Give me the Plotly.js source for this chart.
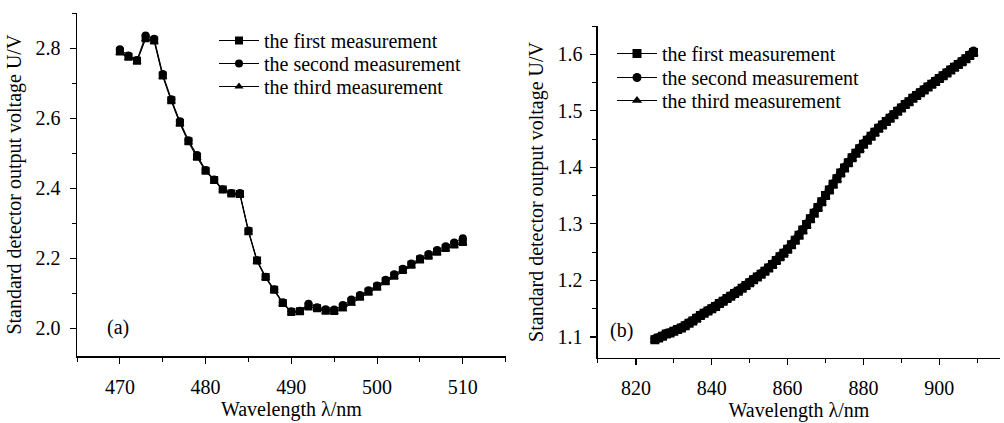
<!DOCTYPE html>
<html>
<head>
<meta charset="utf-8">
<script src="https://cdn.plot.ly/plotly-3.0.1.min.js"></script>
<style>html,body{margin:0;padding:0;background:#fff;}#chart{width:1004px;height:423px;}</style>
</head>
<body>
<div id="chart"></div>
<script>
// ---- Panel (a) data ----
const wavelengthA = [470,471,472,473,474,475,476,477,478,479,480,481,482,483,484,485,486,487,488,489,490,
                     491,492,493,494,495,496,497,498,499,500,501,502,503,504,505,506,507,508,509,510];
const firstA  = [2.790,2.775,2.764,2.828,2.822,2.722,2.651,2.587,2.534,2.490,2.450,2.423,2.396,2.385,2.383,2.277,2.193,2.146,2.110,2.072,2.046,
                 2.048,2.062,2.057,2.050,2.049,2.060,2.076,2.090,2.104,2.118,2.134,2.150,2.166,2.181,2.196,2.207,2.218,2.229,2.239,2.246];
const secondA = [2.797,2.779,2.766,2.836,2.827,2.726,2.654,2.591,2.537,2.495,2.452,2.425,2.397,2.386,2.386,2.279,2.194,2.147,2.111,2.074,2.048,
                 2.050,2.070,2.060,2.054,2.053,2.066,2.082,2.095,2.108,2.122,2.138,2.154,2.170,2.185,2.200,2.212,2.223,2.234,2.245,2.257];
const thirdA  = [2.787,2.772,2.762,2.826,2.819,2.719,2.648,2.584,2.531,2.487,2.448,2.420,2.394,2.383,2.381,2.274,2.190,2.143,2.107,2.070,2.044,
                 2.046,2.063,2.055,2.047,2.046,2.054,2.070,2.086,2.101,2.115,2.131,2.147,2.163,2.178,2.193,2.205,2.216,2.226,2.236,2.243];

// ---- Panel (b) data ----
const wavelengthB = [825,826,827,828,829,830,831,832,833,834,835,836,837,838,839,840,841,842,843,844,
                     845,846,847,848,849,850,851,852,853,854,855,856,857,858,859,860,861,862,863,864,
                     865,866,867,868,869,870,871,872,873,874,875,876,877,878,879,880,881,882,883,884,
                     885,886,887,888,889,890,891,892,893,894,895,896,897,898,899,900,901,902,903,904,
                     905,906,907,908,909];
const firstB = [1.095,1.098,1.101,1.105,1.107, 1.110,1.113,1.116,1.120,1.124, 1.128,1.133,1.138,1.142,1.146,
                1.150,1.154,1.159,1.163,1.168, 1.172,1.177,1.181,1.186,1.191, 1.196,1.201,1.206,1.211,1.216,
                1.222,1.228,1.235,1.242,1.248, 1.255,1.263,1.271,1.280,1.289, 1.299,1.309,1.319,1.329,1.339,
                1.350,1.360,1.370,1.380,1.390, 1.399,1.408,1.417,1.425,1.433, 1.441,1.448,1.455,1.462,1.469,
                1.475,1.481,1.487,1.493,1.499, 1.505,1.511,1.516,1.522,1.527, 1.532,1.537,1.542,1.547,1.552,
                1.557,1.562,1.567,1.572,1.577, 1.582,1.587,1.592,1.598,1.603];
const secondB = [1.097,1.099,1.102,1.106,1.108, 1.111,1.114,1.117,1.121,1.125, 1.129,1.134,1.139,1.143,1.147,
                 1.151,1.155,1.160,1.164,1.169, 1.173,1.178,1.182,1.187,1.192, 1.197,1.202,1.207,1.212,1.217,
                 1.223,1.229,1.236,1.243,1.249, 1.256,1.264,1.272,1.281,1.290, 1.300,1.310,1.320,1.330,1.340,
                 1.351,1.361,1.371,1.381,1.391, 1.400,1.409,1.418,1.426,1.434, 1.442,1.449,1.456,1.463,1.470,
                 1.476,1.482,1.488,1.494,1.500, 1.506,1.512,1.517,1.523,1.528, 1.533,1.538,1.543,1.548,1.553,
                 1.558,1.563,1.568,1.573,1.578, 1.583,1.588,1.593,1.599,1.606];
const thirdB = [1.094,1.097,1.100,1.103,1.106, 1.109,1.112,1.115,1.119,1.123, 1.127,1.131,1.136,1.141,1.145,
                1.149,1.153,1.157,1.162,1.166, 1.171,1.175,1.180,1.185,1.189, 1.194,1.199,1.204,1.209,1.215,
                1.220,1.226,1.233,1.240,1.247, 1.254,1.261,1.269,1.278,1.287, 1.297,1.307,1.317,1.327,1.337,
                1.348,1.358,1.368,1.378,1.388, 1.397,1.406,1.415,1.423,1.431, 1.439,1.446,1.453,1.460,1.467,
                1.473,1.479,1.485,1.491,1.497, 1.503,1.509,1.514,1.520,1.525, 1.530,1.535,1.540,1.545,1.550,
                1.555,1.560,1.565,1.570,1.575, 1.580,1.585,1.590,1.596,1.601];

const seriesNames = ['the first measurement','the second measurement','the third measurement'];
const symbols = ['square','circle','triangle-up'];
const xTitle = 'Wavelength λ/nm';
const yTitle = 'Standard detector output voltage U/V';
const FONT = 'Liberation Serif, DejaVu Serif, Times New Roman, serif';

function mk(x, y, i, xa, ya, lg, msize) {
  return {
    x: x, y: y, type: 'scatter', mode: 'lines+markers', name: seriesNames[i],
    xaxis: xa, yaxis: ya, legend: lg,
    line: {color: 'black', width: 1},
    marker: {symbol: symbols[i], size: msize, color: 'black'}
  };
}

const data = [
  mk(wavelengthA, firstA, 0, 'x', 'y', 'legend', 8),
  mk(wavelengthA, secondA, 1, 'x', 'y', 'legend2', 8),
  mk(wavelengthA, thirdA, 2, 'x', 'y', 'legend3', 8),
  mk(wavelengthB, firstB, 0, 'x2', 'y2', 'legend4', 9),
  mk(wavelengthB, secondB, 1, 'x2', 'y2', 'legend5', 9),
  mk(wavelengthB, thirdB, 2, 'x2', 'y2', 'legend6', 9)
];

const axBase = {
  showline: true, linecolor: 'black', linewidth: 1.5, mirror: false,
  ticks: 'outside', ticklen: 6, tickwidth: 1.2, tickcolor: 'black',
  showgrid: false, zeroline: false, fixedrange: true,
  tickfont: {family: FONT, size: 20, color: 'black'}
};

function leg(xpx, rowCenterPx) {
  return {
    x: xpx / 1004, y: 1 - (rowCenterPx - 20) / 423, xanchor: 'left', yanchor: 'top',
    bgcolor: 'rgba(0,0,0,0)', borderwidth: 0, font: {family: FONT, size: 20, color: 'black'},
    itemwidth: 40, tracegroupgap: 0
  };
}

const layout = {
  width: 1004, height: 423,
  margin: {l: 0, r: 0, t: 0, b: 0},
  paper_bgcolor: 'white', plot_bgcolor: 'white',
  font: {family: FONT, size: 20, color: 'black'},
  showlegend: true,
  xaxis: Object.assign({}, axBase, {
    domain: [0.0767, 0.5037], range: [465, 515], anchor: 'y',
    tick0: 470, dtick: 10, ticklabelstandoff: 6,
    minor: {ticks: 'outside', ticklen: 4, dtick: 5, tick0: 470, tickcolor: 'black', tickwidth: 1},
    title: {text: xTitle, standoff: 4, font: {family: FONT, size: 20}}
  }),
  yaxis: Object.assign({}, axBase, {
    domain: [0.158, 0.969], range: [1.92, 2.9], anchor: 'x',
    tick0: 2.0, dtick: 0.2, tickformat: '.1f', ticklabelstandoff: 5,
    minor: {ticks: 'outside', ticklen: 4, dtick: 0.1, tick0: 2.0, tickcolor: 'black', tickwidth: 1},
    title: {text: yTitle, standoff: 8, font: {family: FONT, size: 20}}
  }),
  xaxis2: Object.assign({}, axBase, {
    domain: [0.5956, 0.996], range: [810, 916], anchor: 'y2',
    tick0: 820, dtick: 20, ticklabelstandoff: 6,
    minor: {ticks: 'outside', ticklen: 4, dtick: 10, tick0: 820, tickcolor: 'black', tickwidth: 1},
    title: {text: xTitle, standoff: 4, font: {family: FONT, size: 20}}
  }),
  yaxis2: Object.assign({}, axBase, {
    domain: [0.154, 0.9385], range: [1.063, 1.65], anchor: 'x2',
    tick0: 1.1, dtick: 0.1, tickformat: '.1f', ticklabelstandoff: 4,
    minor: {ticks: 'outside', ticklen: 4, dtick: 0.05, tick0: 1.1, tickcolor: 'black', tickwidth: 1},
    title: {text: yTitle, standoff: 8, font: {family: FONT, size: 20}}
  }),
  legend: leg(214, 41),
  legend2: leg(214, 64),
  legend3: leg(214, 87),
  legend4: leg(612, 54),
  legend5: leg(612, 78),
  legend6: leg(612, 101),
  annotations: [
    {text: '(a)', xref: 'paper', yref: 'paper', x: 0.1046, y: 0.1939, showarrow: false, font: {family: FONT, size: 20}},
    {text: '(b)', xref: 'paper', yref: 'paper', x: 0.6195, y: 0.1868, showarrow: false, font: {family: FONT, size: 20}}
  ]
};

Plotly.newPlot('chart', data, layout, {displayModeBar: false, staticPlot: true});
</script>
</body>
</html>
